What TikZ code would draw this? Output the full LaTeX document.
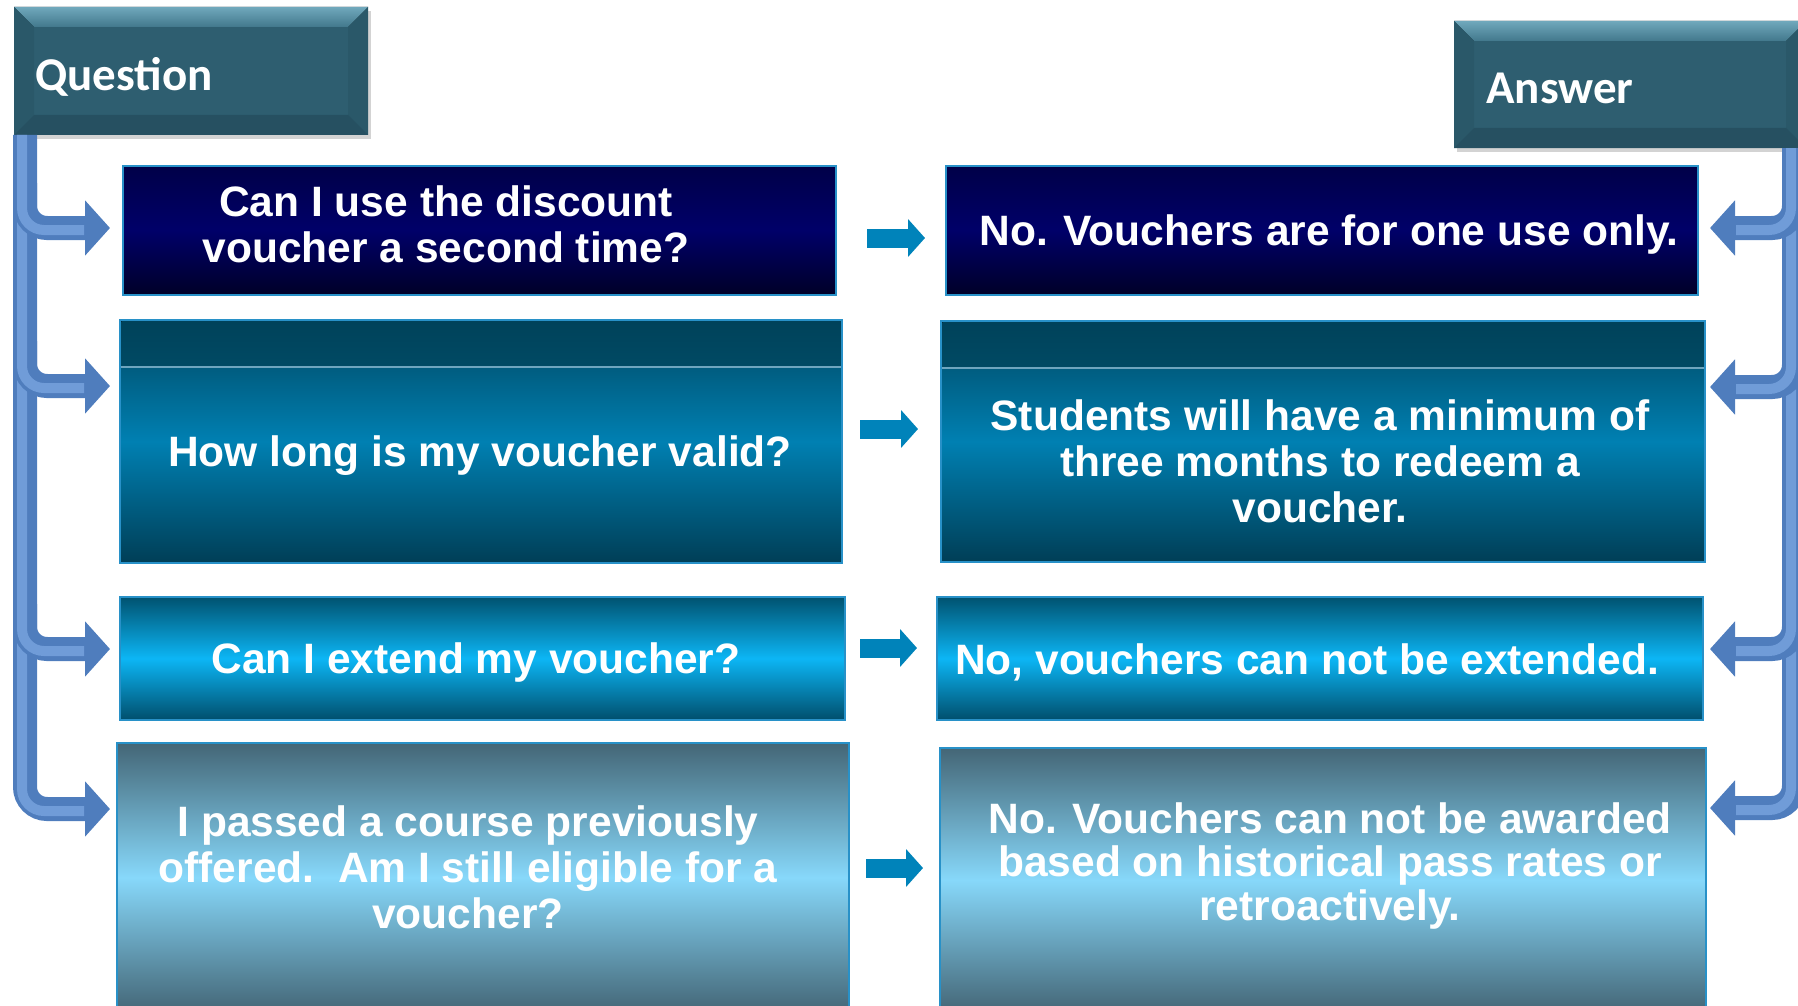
\documentclass[tikz,border=0pt]{standalone}
\usepackage{fontspec}
\setmainfont{Liberation Sans}
\newfontfamily\hdrfont{Carlito}
\usetikzlibrary{arrows.meta,calc,fit,shadows}
\definecolor{hdrmain}{RGB}{46,94,112}
\definecolor{hdrtop}{RGB}{112,168,188}
\definecolor{hdrtopb}{RGB}{66,120,140}
\definecolor{hdrside}{RGB}{42,88,105}
\definecolor{hdrbot}{RGB}{38,80,97}
\definecolor{bordc}{RGB}{40,145,200}
\definecolor{brcol}{RGB}{79,125,189}
\definecolor{brhi}{RGB}{112,156,216}
\definecolor{midarr}{RGB}{0,131,186}
\begin{document}
\begin{tikzpicture}[x=1pt,y=-1pt,
  box/.style={draw=bordc, line width=2.5pt, inner sep=0pt, outer sep=0pt},
  rowa/.style={box, top color={rgb,255:red,0;green,0;blue,72}, bottom color={rgb,255:red,0;green,0;blue,40}, middle color={rgb,255:red,0;green,0;blue,105}},
  rowb/.style={box, top color={rgb,255:red,0;green,70;blue,96}, bottom color={rgb,255:red,0;green,62;blue,86}, middle color={rgb,255:red,0;green,128;blue,178}},
  rowc/.style={box, top color={rgb,255:red,0;green,82;blue,112}, bottom color={rgb,255:red,0;green,78;blue,108}, middle color={rgb,255:red,12;green,182;blue,245}},
  rowd/.style={box, top color={rgb,255:red,68;green,102;blue,118}, bottom color={rgb,255:red,68;green,102;blue,118}, middle color={rgb,255:red,135;green,216;blue,250}},
  txt/.style={text=white, font=\bfseries\fontsize{42.5}{46}\selectfont, align=center, inner sep=0pt},
  hdr/.style={fill=hdrmain, inner sep=0pt, outer sep=0pt, drop shadow={opacity=0.35, shadow xshift=3pt, shadow yshift=-4pt}},
  hdrtxt/.style={text=white, font=\hdrfont\bfseries\fontsize{47}{50}\selectfont, inner sep=0pt},
  brk/.style={line width=24pt, draw=brcol, rounded corners=22pt, -{Triangle[length=25pt, width=54pt]}},
  brkhi/.style={line width=10pt, draw=brhi, rounded corners=22pt},
  mid/.style={line width=19pt, draw=midarr, -{Triangle[length=17pt, width=37pt]}}
]
\useasboundingbox (0,0) rectangle (1798,1006);

% ---------- headers ----------
\node[hdr, fit={(14,7) (368,135)}] (qh) {};
\node[hdr, fit={(1454,21) (1806,148)}] (ah) {};
\foreach \h in {qh,ah}{
  \fill[top color=hdrtop, bottom color=hdrtopb] (\h.north west) -- (\h.north east) -- ($(\h.north east)+(-20,20)$) -- ($(\h.north west)+(20,20)$) -- cycle;
  \fill[hdrside] (\h.north west) -- ($(\h.north west)+(20,20)$) -- ($(\h.south west)+(20,-20)$) -- (\h.south west) -- cycle;
  \fill[hdrside] (\h.north east) -- ($(\h.north east)+(-20,20)$) -- ($(\h.south east)+(-20,-20)$) -- (\h.south east) -- cycle;
  \fill[hdrbot] (\h.south west) -- ($(\h.south west)+(20,-20)$) -- ($(\h.south east)+(-20,-20)$) -- (\h.south east) -- cycle;
}
\node[hdrtxt] (qht) at (124,77) {Question};
\node[hdrtxt] (aht) at (1560,88) {Answer};

% ---------- boxes ----------
\node[rowa, fit={(123,166) (836,295)}] (q1) {};
\node[rowa, fit={(946,166) (1698,295)}] (a1) {};

\node[rowb, fit={(120,320) (842,563)}] (q2) {};
\node[rowb, fit={(941,321) (1705,562)}] (a2) {};
\foreach \b in {q2,a2}{
  \fill[top color={rgb,255:red,0;green,66;blue,90}, bottom color={rgb,255:red,0;green,74;blue,100}]
    ($(\b.north west)+(1.25,1.25)$) rectangle ($(\b.north east)+(-1.25,47)$);
  \draw[line width=1.2pt, color={rgb,255:red,110;green,165;blue,190}]
    ($(\b.north west)+(1.25,47)$) -- ($(\b.north east)+(-1.25,47)$);
}

\node[rowc, fit={(120,597) (845,720)}] (q3) {};
\node[rowc, fit={(937,597) (1703,720)}] (a3) {};

\node[rowd, fit={(117,743) (849,1012)}] (q4) {};
\node[rowd, fit={(940,748) (1706,1012)}] (a4) {};

% ---------- texts ----------
\node[txt] (q1t) at (446,224) {Can I use the discount\\voucher a second time?};
\node[txt] (a1t) at (1329,235) {No. Vouchers are for one use only.};
\node[txt] (q2t) at (480,456) {How long is my voucher valid?};
\node[txt] (a2t) at (1320,461) {Students will have a minimum of\\three months to redeem a\\voucher.};
\node[txt] (q3t) at (476,663) {Can I extend my voucher?};
\node[txt] (a3t) at (1307,662) {No, vouchers can not be extended.};
\node[txt] (q4t) at (468,867) {I passed a course previously\\offered.\ \ Am I still eligible for a\\voucher?};
\node[txt, font=\bfseries\fontsize{42.5}{43.5}\selectfont] (a4t) at (1330,866) {No. Vouchers can not be awarded\\based on historical pass rates or\\retroactively.};

% ---------- middle arrows ----------
\coordinate (m1s) at (867,238); \coordinate (m1e) at (925,238);
\coordinate (m2s) at (860,429); \coordinate (m2e) at (918,429);
\coordinate (m3s) at (860,648); \coordinate (m3e) at (917,648);
\coordinate (m4s) at (866,868); \coordinate (m4e) at (923,868);
\foreach \i in {1,2,3,4}{ \draw[mid] (m\i s) -- (m\i e); }

% ---------- left bracket ----------
\coordinate (lb) at (25,135);
\coordinate (lt1) at (110,228);
\coordinate (lt2) at (110,386);
\coordinate (lt3) at (110,649);
\coordinate (lt4) at (110,809);
\draw[brk] (lb) |- (lt4);
\draw[brkhi] ($(lb)+(-3,0)$) |- ($(lt4)+(-26,2)$);
\foreach \i/\y in {1/228,2/386,3/649}{
  \draw[brk] (25,\y-45) |- (lt\i);
  \draw[brkhi] (22,\y-45) |- ($(lt\i)+(-26,2)$);
}

% ---------- right bracket ----------
\coordinate (rb) at (1794,148);
\coordinate (rt1) at (1710,228);
\coordinate (rt2) at (1710,387);
\coordinate (rt3) at (1710,649);
\coordinate (rt4) at (1710,808);
\draw[brk] (rb) |- (rt4);
\draw[brkhi] ($(rb)+(-3,0)$) |- ($(rt4)+(26,2)$);
\foreach \i/\y in {1/228,2/387,3/649}{
  \draw[brk] (1794,\y-45) |- (rt\i);
  \draw[brkhi] (1791,\y-45) |- ($(rt\i)+(26,2)$);
}
\end{tikzpicture}
\end{document}
